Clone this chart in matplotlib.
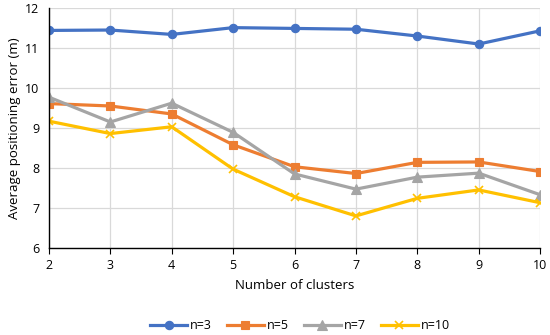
import matplotlib
matplotlib.use("Agg")
import matplotlib.pyplot as plt

clusters = [2, 3, 4, 5, 6, 7, 8, 9, 10]
n3 = [11.44, 11.45, 11.34, 11.51, 11.49, 11.47, 11.30, 11.10, 11.43]
n5 = [9.61, 9.55, 9.35, 8.58, 8.03, 7.86, 8.14, 8.15, 7.91]
n7 = [9.77, 9.15, 9.62, 8.89, 7.85, 7.47, 7.77, 7.87, 7.33]
n10 = [9.17, 8.86, 9.03, 7.97, 7.28, 6.80, 7.24, 7.45, 7.13]
labels = ["n=3", "n=5", "n=7", "n=10"]

plt.rcParams['font.family'] = ['Open Sans', 'DejaVu Sans']
fig = plt.figure(figsize=(5.5, 3.35), dpi=100)
ax = fig.add_axes([0.089, 0.26, 0.893, 0.716])

styles = [
    (n3, '#4472C4', 'o', 6),
    (n5, '#ED7D31', 's', 6),
    (n7, '#A5A5A5', '^', 6.5),
    (n10, '#FFC000', 'x', 6),
]
for (vals, c, m, ms), lab in zip(styles, labels):
    ax.plot(clusters, vals, color=c, marker=m, markersize=ms, linewidth=2.3,
            label=lab, markeredgewidth=1.2 if m == 'x' else 0.8, markeredgecolor=c)

ax.set_xlim(2, 10)
ax.set_ylim(6, 12)
ax.set_xticks(clusters)
ax.set_yticks([6, 7, 8, 9, 10, 11, 12])
ax.grid(True, color='#D9D9D9', linewidth=0.9)
ax.set_axisbelow(True)
for s in ['top', 'right']:
    ax.spines[s].set_visible(False)
ax.spines['left'].set_color('black')
ax.spines['bottom'].set_color('black')
ax.spines['left'].set_linewidth(1.0)
ax.spines['bottom'].set_linewidth(1.0)
ax.tick_params(axis='y', length=0, labelsize=9, pad=7)
ax.tick_params(axis='x', length=4, direction='out', labelsize=9, pad=4)
ax.set_xlabel('Number of clusters', fontsize=9.5, labelpad=5)
ax.set_ylabel('Average positioning error (m)', fontsize=9.5, labelpad=3)

fig.legend(loc='center', bbox_to_anchor=(0.545, 0.028), ncol=4, frameon=False,
           fontsize=9, handlelength=3, columnspacing=1.2, handletextpad=0.2)

fig.savefig('out.png', dpi=100)
